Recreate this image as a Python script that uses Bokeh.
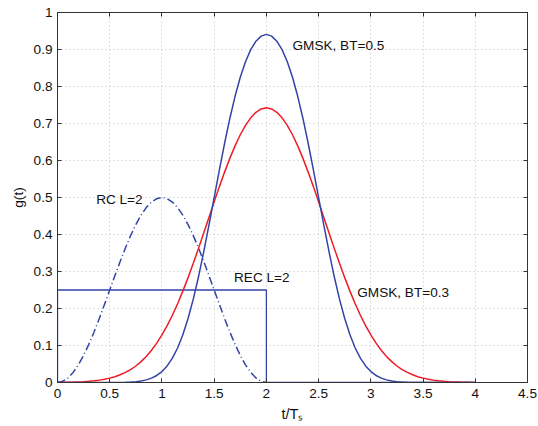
from bokeh.plotting import figure
from bokeh.models import Range1d, FixedTicker, LinearAxis, Label
from bokeh.embed import file_html
from bokeh.resources import INLINE

# ---- data ----
t_gmsk = [0.0, 0.05, 0.1, 0.15, 0.2, 0.25, 0.3, 0.35, 0.4, 0.45,
          0.5, 0.55, 0.6, 0.65, 0.7, 0.75, 0.8, 0.85, 0.9, 0.95,
          1.0, 1.05, 1.1, 1.15, 1.2, 1.25, 1.3, 1.35, 1.4, 1.45,
          1.5, 1.55, 1.6, 1.65, 1.7, 1.75, 1.8, 1.85, 1.9, 1.95,
          2.0, 2.05, 2.1, 2.15, 2.2, 2.25, 2.3, 2.35, 2.4, 2.45,
          2.5, 2.55, 2.6, 2.65, 2.7, 2.75, 2.8, 2.85, 2.9, 2.95,
          3.0, 3.05, 3.1, 3.15, 3.2, 3.25, 3.3, 3.35, 3.4, 3.45,
          3.5, 3.55, 3.6, 3.65, 3.7, 3.75, 3.8, 3.85, 3.9, 3.95, 4.0]
g_bt05 = [0.0, 0.0, 0.0, 0.0, 0.0, 0.0, 0.0, 0.0, 0.0, 0.0,
          0.0001, 0.0002, 0.0003, 0.0007, 0.0013, 0.0023, 0.0041, 0.0071, 0.0118, 0.0190,
          0.0296, 0.0448, 0.0657, 0.0933, 0.1288, 0.1728, 0.2252, 0.2857, 0.3531, 0.4252,
          0.4999, 0.5746, 0.6466, 0.7136, 0.7735, 0.8249, 0.8670, 0.8996, 0.9225, 0.9362,
          0.9408, 0.9362, 0.9225, 0.8996, 0.8670, 0.8249, 0.7735, 0.7136, 0.6466, 0.5746,
          0.4999, 0.4252, 0.3531, 0.2857, 0.2252, 0.1728, 0.1288, 0.0933, 0.0657, 0.0448,
          0.0296, 0.0190, 0.0118, 0.0071, 0.0041, 0.0023, 0.0013, 0.0007, 0.0003, 0.0002,
          0.0001, 0.0, 0.0, 0.0, 0.0, 0.0, 0.0, 0.0, 0.0, 0.0, 0.0]
g_bt03 = [0.0003, 0.0005, 0.0008, 0.0011, 0.0016, 0.0023, 0.0033, 0.0046, 0.0064, 0.0087,
          0.0118, 0.0157, 0.0208, 0.0272, 0.0350, 0.0446, 0.0564, 0.0705, 0.0871, 0.1064,
          0.1285, 0.1536, 0.1817, 0.2130, 0.2470, 0.2834, 0.3220, 0.3625, 0.4042, 0.4462,
          0.4882, 0.5294, 0.5686, 0.6057, 0.6396, 0.6696, 0.6949, 0.7153, 0.7303, 0.7393,
          0.7424, 0.7393, 0.7303, 0.7153, 0.6949, 0.6696, 0.6396, 0.6057, 0.5686, 0.5294,
          0.4882, 0.4462, 0.4042, 0.3625, 0.3220, 0.2834, 0.2470, 0.2130, 0.1817, 0.1536,
          0.1285, 0.1064, 0.0871, 0.0705, 0.0564, 0.0446, 0.0350, 0.0272, 0.0208, 0.0157,
          0.0118, 0.0087, 0.0064, 0.0046, 0.0033, 0.0023, 0.0016, 0.0011, 0.0008, 0.0005, 0.0003]
t_rc = [0.0, 0.05, 0.1, 0.15, 0.2, 0.25, 0.3, 0.35, 0.4, 0.45,
        0.5, 0.55, 0.6, 0.65, 0.7, 0.75, 0.8, 0.85, 0.9, 0.95,
        1.0, 1.05, 1.1, 1.15, 1.2, 1.25, 1.3, 1.35, 1.4, 1.45,
        1.5, 1.55, 1.6, 1.65, 1.7, 1.75, 1.8, 1.85, 1.9, 1.95, 2.0]
g_rc = [0.0, 0.0031, 0.0122, 0.0273, 0.0477, 0.0732, 0.1031, 0.1365, 0.1727, 0.2109,
        0.25, 0.2891, 0.3273, 0.3635, 0.3969, 0.4268, 0.4523, 0.4728, 0.4878, 0.4969,
        0.5, 0.4969, 0.4878, 0.4728, 0.4523, 0.4268, 0.3969, 0.3635, 0.3273, 0.2891,
        0.25, 0.2109, 0.1727, 0.1365, 0.1031, 0.0732, 0.0477, 0.0273, 0.0122, 0.0031, 0.0]
t_rec = [0.0, 0.0, 2.0, 2.0, 4.0]
g_rec = [0.0, 0.25, 0.25, 0.0, 0.0]

x_ticks = [0, 0.5, 1, 1.5, 2, 2.5, 3, 3.5, 4, 4.5]
x_tick_labels = ["0", "0.5", "1", "1.5", "2", "2.5", "3", "3.5", "4", "4.5"]
y_ticks = [0, 0.1, 0.2, 0.3, 0.4, 0.5, 0.6, 0.7, 0.8, 0.9, 1]
y_tick_labels = ["0", "0.1", "0.2", "0.3", "0.4", "0.5", "0.6", "0.7", "0.8", "0.9", "1"]
x_title = "t/T\u209b"
y_title = "g(t)"

labels = ["GMSK, BT=0.5", "RC L=2", "REC L=2", "GMSK, BT=0.3"]
label_x = [2.25, 0.37, 1.69, 2.87]
label_y = [0.911, 0.495, 0.284, 0.243]

BLUE = "#3443a6"
RED = "#ee1c25"
FONT = "Liberation Sans"
FS = "13.6px"

p = figure(width=538, height=426, output_backend="svg", toolbar_location=None,
           x_range=Range1d(0, 4.5), y_range=Range1d(0, 1),
           min_border_left=57, min_border_right=11, min_border_top=12, min_border_bottom=44,
           background_fill_color="white", border_fill_color="white")

p.outline_line_color = "#333333"
p.outline_line_width = 1

for ax, ticks, labs in ((p.xaxis, x_ticks, x_tick_labels), (p.yaxis, y_ticks, y_tick_labels)):
    ax.ticker = FixedTicker(ticks=ticks)
    ax.major_label_overrides = {t: l for t, l in zip(ticks, labs)}
    ax.major_tick_in = 4
    ax.major_tick_out = 0
    ax.minor_tick_line_color = None
    ax.axis_line_color = "#333333"
    ax.major_tick_line_color = "#333333"
    ax.major_label_text_font = FONT
    ax.major_label_text_font_size = FS
    ax.major_label_text_color = "#111111"
    ax.axis_label_text_font = FONT
    ax.axis_label_text_font_size = FS
    ax.axis_label_text_font_style = "normal"
    ax.axis_label_text_color = "#111111"

p.xaxis.major_label_standoff = 6
p.yaxis.major_label_standoff = 5
p.yaxis.axis_label = y_title
p.yaxis.axis_label_standoff = 5
p.xaxis.axis_label = x_title
p.xaxis.axis_label_standoff = 5
p.xaxis.axis_label_text_font_size = "14.5px"

for loc, ticks in (("above", x_ticks), ("right", y_ticks)):
    a = LinearAxis(ticker=FixedTicker(ticks=ticks), major_tick_in=4, major_tick_out=0,
                   minor_tick_line_color=None, axis_line_color="#333333",
                   major_tick_line_color="#333333", major_label_text_font_size="0px",
                   major_label_text_color=None, major_label_standoff=0)
    p.add_layout(a, loc)

for g in (p.xgrid, p.ygrid):
    g.grid_line_color = "#c4c4c4"
    g.grid_line_dash = "1 3"
    g.grid_line_width = 1

p.line(t_rec, g_rec, line_color=BLUE, line_width=1.3)
p.line(t_rc, g_rc, line_color=BLUE, line_width=1.5, line_dash="8 3 1 3")
p.line(t_gmsk, g_bt03, line_color=RED, line_width=1.5)
p.line(t_gmsk, g_bt05, line_color=BLUE, line_width=1.5)

for txt, x, y in zip(labels, label_x, label_y):
    p.add_layout(Label(x=x, y=y, text=txt, text_font=FONT, text_font_size=FS,
                       text_baseline="middle", text_align="left", text_color="#111111"))

open("out.html", "w").write(file_html(p, INLINE))
